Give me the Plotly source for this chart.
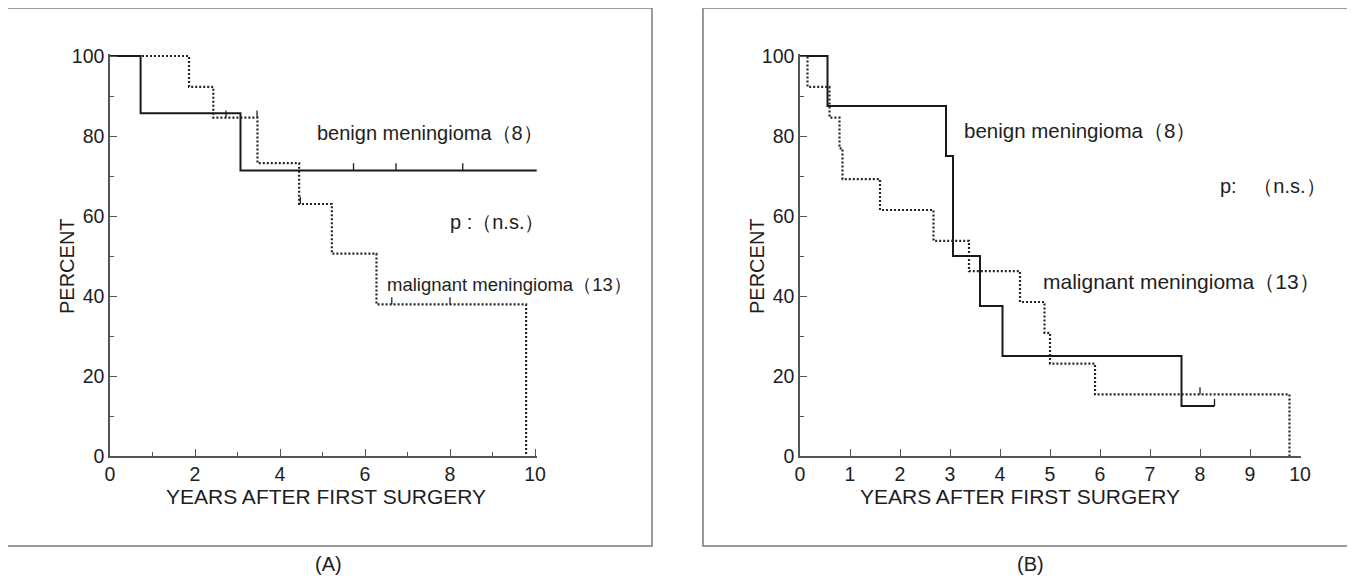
import plotly.graph_objects as go

# ---------------- data ----------------
# Panel A
a_benign_t = [0, 0.72, 3.07]
a_benign_s = [100, 85.7, 71.4]
a_benign_end = 10.04
a_benign_cens = [5.73, 6.73, 8.30]

a_malig_t = [0, 1.86, 2.43, 3.47, 4.45, 5.22, 6.27, 9.79]
a_malig_s = [100, 92.3, 84.6, 73.2, 63.0, 50.6, 37.9, 0]
a_malig_end = 9.79
a_malig_cens = [2.73, 3.46, 4.48, 6.63, 8.00]

# Panel B
b_benign_t = [0, 0.55, 2.92, 3.06, 3.60, 4.05, 7.63]
b_benign_s = [100, 87.5, 75.0, 50.0, 37.5, 25.0, 12.5]
b_benign_end = 8.29
b_benign_cens = [8.29]

b_malig_t = [0, 0.15, 0.59, 0.79, 0.85, 1.60, 2.67, 3.38, 4.40, 4.89, 5.00, 5.90, 9.79]
b_malig_s = [100, 92.3, 84.6, 76.9, 69.2, 61.5, 53.8, 46.2, 38.5, 30.8, 23.1, 15.4, 0]
b_malig_end = 9.79
b_malig_cens = [8.00]

x_title = "YEARS AFTER FIRST SURGERY"
y_title = "PERCENT"
benign_label = "benign meningioma（8）"
malig_label = "malignant meningioma（13）"
p_label_a = "p :（n.s.）"
p_label_b = "p:\u00a0\u00a0\u00a0（n.s.）"
panel_labels = ["(A)", "(B)"]

# ---------------- helpers ----------------
W, H = 1355, 579
OFF = 8  # page body margin offset
FONT = "Liberation Sans, Arial, Helvetica, sans-serif"
INK = "#1e1e1e"
TICK_H = 1.8


def px(x):
    return (x - OFF) / W


def py(y):
    return 1 - (y - OFF) / H


def level_at(ts, ss, c):
    lv = ss[0]
    for t, s in zip(ts, ss):
        if t <= c:
            lv = s
    return lv


def step_xy(ts, ss, end):
    return list(ts) + [end], list(ss) + [ss[-1]]


def cens_xy(ts, ss, cens):
    xs, ys = [], []
    for c in cens:
        lv = level_at(ts, ss, c)
        xs += [c, c, None]
        ys += [lv, lv + TICK_H, None]
    return xs, ys


fig = go.Figure()

solid = dict(color="#1a1a1a", width=2)
dotted = dict(color="#262626", width=2.2, dash="2px,2px")

for (xa, ya, bt, bs, be, bc, mt, ms, me, mc) in [
    ("x", "y", a_benign_t, a_benign_s, a_benign_end, a_benign_cens,
     a_malig_t, a_malig_s, a_malig_end, a_malig_cens),
    ("x2", "y2", b_benign_t, b_benign_s, b_benign_end, b_benign_cens,
     b_malig_t, b_malig_s, b_malig_end, b_malig_cens),
]:
    x, y = step_xy(mt, ms, me)
    fig.add_trace(go.Scatter(x=x, y=y, mode="lines", line_shape="hv", line=dotted,
                             xaxis=xa, yaxis=ya, showlegend=False, name="malignant meningioma"))
    cx, cy = cens_xy(mt, ms, mc)
    fig.add_trace(go.Scatter(x=cx, y=cy, mode="lines", line=dict(color="#262626", width=1.3),
                             xaxis=xa, yaxis=ya, showlegend=False, hoverinfo="skip"))
    x, y = step_xy(bt, bs, be)
    fig.add_trace(go.Scatter(x=x, y=y, mode="lines", line_shape="hv", line=solid,
                             xaxis=xa, yaxis=ya, showlegend=False, name="benign meningioma"))
    cx, cy = cens_xy(bt, bs, bc)
    fig.add_trace(go.Scatter(x=cx, y=cy, mode="lines", line=dict(color="#1a1a1a", width=1.3),
                             xaxis=xa, yaxis=ya, showlegend=False, hoverinfo="skip"))

# axis pixel geometry (screen px)
ydom = [py(456), py(54)]  # y=0 .. y=100.5

common_axis = dict(
    showline=True, linecolor="#555555", linewidth=1.5, showgrid=False, zeroline=False,
    ticks="inside", ticklen=7, tickwidth=1.3, tickcolor="#555555",
    tickfont=dict(family=FONT, size=19.5, color=INK), automargin=False,
)
minor_x = dict(ticks="inside", ticklen=4, dtick=1, tick0=0, tickcolor="#555555", tickwidth=1.3)
minor_y = dict(ticks="inside", ticklen=4, dtick=10, tick0=0, tickcolor="#555555", tickwidth=1.3)

fig.update_layout(
    width=W, height=H, margin=dict(l=0, r=0, t=0, b=0),
    paper_bgcolor="white", plot_bgcolor="white",
    xaxis=dict(common_axis, domain=[px(110), px(110 + 42.5 * 10.05)], range=[0, 10.05],
               tickmode="array", tickvals=[0, 2, 4, 6, 8, 10], minor=minor_x, anchor="y"),
    yaxis=dict(common_axis, domain=ydom, range=[0, 100.5],
               tickmode="array", tickvals=[0, 20, 40, 60, 80, 100], minor=minor_y, anchor="x"),
    xaxis2=dict(common_axis, domain=[px(800), px(800 + 50 * 10.02)], range=[0, 10.02],
                tickmode="array", tickvals=list(range(0, 11)), anchor="y2"),
    yaxis2=dict(common_axis, domain=ydom, range=[0, 100.5],
                tickmode="array", tickvals=[0, 20, 40, 60, 80, 100], minor=minor_y, anchor="x2"),
)

# axis titles
for cx in [326, 1020]:
    fig.add_annotation(x=px(cx), y=py(496), xref="paper", yref="paper", text=x_title,
                       showarrow=False, xanchor="center", yanchor="middle",
                       font=dict(family=FONT, size=21, color=INK))
for cx in [67, 757]:
    fig.add_annotation(x=px(cx), y=py(266), xref="paper", yref="paper", text=y_title,
                       showarrow=False, xanchor="center", yanchor="middle", textangle=-90,
                       font=dict(family=FONT, size=20, color=INK))

ann = [
    dict(x=4.82, y=80.8, xref="x", yref="y", text=benign_label, size=20),
    dict(x=7.95, y=58.5, xref="x", yref="y", text=p_label_a, size=20),
    dict(x=6.47, y=42.8, xref="x", yref="y", text=malig_label, size=18.5),
    dict(x=3.23, y=81.5, xref="x2", yref="y2", text=benign_label, size=20.5),
    dict(x=8.36, y=67.5, xref="x2", yref="y2", text=p_label_b, size=20),
    dict(x=4.82, y=43.6, xref="x2", yref="y2", text=malig_label, size=21),
]
for a in ann:
    s = a.pop("size")
    fig.add_annotation(showarrow=False, xanchor="left", yanchor="middle",
                       font=dict(family=FONT, size=s, color=INK), **a)

for lab, cx in zip(panel_labels, [328, 1030]):
    fig.add_annotation(x=px(cx), y=py(564), xref="paper", yref="paper", text=lab,
                       showarrow=False, xanchor="center", yanchor="middle",
                       font=dict(family=FONT, size=20, color=INK))

# panel frames
for x0, x1 in [(7, 652), (703, 1351)]:
    fig.add_shape(type="rect", xref="paper", yref="paper",
                  x0=px(x0), x1=px(x1), y0=py(546), y1=py(8),
                  line=dict(color="#7a7a7a", width=1.5))

fig.write_html("out.html")
